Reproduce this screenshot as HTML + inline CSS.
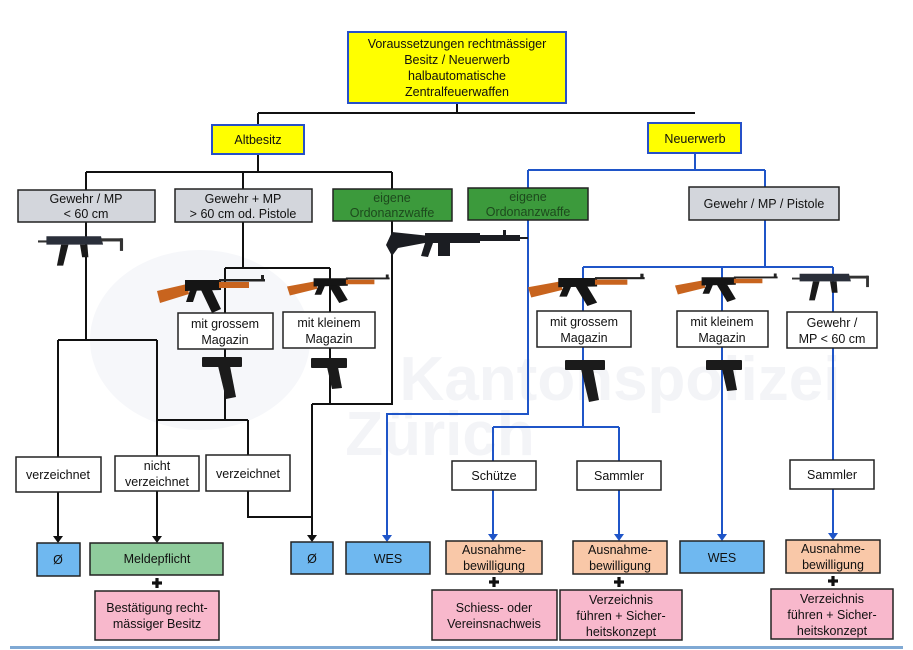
<!DOCTYPE html>
<html><head><meta charset="utf-8"><style>
html,body{margin:0;padding:0;background:#fff;}
svg{display:block;font-family:"Liberation Sans",sans-serif;}
text{font-size:12.5px;fill:#111;text-anchor:middle;}
</style></head><body>
<svg width="913" height="650" viewBox="0 0 913 650" xmlns="http://www.w3.org/2000/svg">
<defs>
<g id="ak">
<polygon points="0,18 30,11 32,21 3,30" fill="#c8641e"/>
<polygon points="28,7 64,7 64,17 28,18" fill="#151515"/>
<polygon points="62,9 92,9 92,15 62,15" fill="#c8641e"/>
<rect x="62" y="6" width="46" height="2.5" fill="#222"/>
<rect x="104" y="2" width="3" height="6" fill="#222"/>
<polygon points="44,17 55,17 64,36 55,40" fill="#151515"/>
<polygon points="33,17 40,17 36,29 29,29" fill="#151515"/>
</g>
<g id="mp5">
<rect x="0" y="8" width="10" height="2" fill="#333"/>
<polygon points="8,4 60,4 62,12 8,12" fill="#2a2f3a"/>
<rect x="60" y="6" width="20" height="3" fill="#333"/>
<rect x="78" y="6" width="3" height="12" fill="#333"/>
<polygon points="22,12 29,12 24,32 18,32" fill="#1a1a1a"/>
<polygon points="40,12 47,12 48,24 42,24" fill="#1a1a1a"/>
</g>
<g id="pistol">
<rect x="0" y="0" width="40" height="10" rx="1" fill="#1b1b1b"/>
<polygon points="16,9 28,9 34,40 24,42" fill="#1b1b1b"/>
</g>
<g id="pistols">
<rect x="0" y="0" width="36" height="10" rx="1" fill="#1b1b1b"/>
<polygon points="16,9 27,9 31,30 21,31" fill="#1b1b1b"/>
</g>
<g id="plus"><rect x="-5" y="-1.6" width="10" height="3.2"/><rect x="-1.6" y="-5" width="3.2" height="10"/></g>
</defs>

<!-- watermark -->
<ellipse cx="200" cy="340" rx="110" ry="90" fill="#f6f7fa"/>
<text x="620" y="400" style="font-size:62px;font-weight:bold;fill:#f3f4f7;">Kantonspolizei</text>
<text x="440" y="455" style="font-size:62px;font-weight:bold;fill:#f3f4f7;">Zürich</text>

<!-- black connectors -->
<g stroke="#111" stroke-width="2" fill="none">
<path d="M457,103 V113 M258,113 H695 M258,113 V125"/>
<path d="M258,153 V172 M86,172 H392 M86,172 V190 M243,172 V189 M392,172 V189"/>
<path d="M86,222 V340 M58,340 H157 M58,340 V457 M157,340 V456"/>
<path d="M58,492 V537"/>
<path d="M157,491 V537"/>
<path d="M243,222 V268 M225,268 H330 M225,268 V313 M330,268 V312"/>
<path d="M225,349 V420 M157,420 H248 M248,420 V455"/>
<path d="M330,348 V404 M312,404 H393 M392,221 V404"/>
<path d="M248,491 V517 H312 M312,404 V536"/>
</g>
<g fill="#111">
<polygon points="53,536 63,536 58,543"/>
<polygon points="152,536 162,536 157,543"/>
<polygon points="307,535 317,535 312,542"/>
</g>
<!-- blue connectors -->
<g stroke="#1f55c8" stroke-width="2" fill="none">
<path d="M695,153 V170 M528,170 H765 M528,170 V188 M765,170 V187"/>
<path d="M528,220 V414 H387 V536"/>
<path d="M765,220 V267 M583,267 H833 M583,267 V311 M722,267 V311 M833,267 V312"/>
<path d="M583,347 V427 M493,427 H619 M493,427 V461 M619,427 V461"/>
<path d="M493,490 V535 M619,490 V535"/>
<path d="M722,347 V535"/>
<path d="M833,348 V460 M833,489 V534"/>
</g>
<g fill="#1f55c8">
<polygon points="382,535 392,535 387,542"/>
<polygon points="488,534 498,534 493,541"/>
<polygon points="614,534 624,534 619,541"/>
<polygon points="717,534 727,534 722,541"/>
<polygon points="828,533 838,533 833,540"/>
</g>

<!-- guns -->
<use href="#mp5" transform="translate(38,232) scale(1.05)"/>
<use href="#mp5" transform="translate(792,270) scale(0.95)"/>
<use href="#ak" transform="translate(157,273) scale(1.0)"/>
<use href="#ak" transform="translate(287,273) scale(0.95,0.75)"/>
<use href="#ak" transform="translate(528,272) scale(1.08,0.85)"/>
<use href="#ak" transform="translate(675,272) scale(0.95,0.75)"/>
<use href="#pistol" transform="translate(202,357)"/>
<use href="#pistols" transform="translate(311,358)"/>
<use href="#pistol" transform="translate(565,360)"/>
<use href="#pistols" transform="translate(706,360)"/>
<g fill="#1b1d22">
<polygon points="386,245 392,232 430,236 430,242 398,248 392,256"/>
<rect x="425" y="233" width="55" height="10"/>
<rect x="478" y="235" width="42" height="6"/>
<rect x="518" y="237" width="10" height="2"/>
<rect x="503" y="230" width="3" height="6"/>
<polygon points="425,243 433,243 428,257 421,256"/>
<rect x="438" y="242" width="12" height="14"/>
</g>

<!-- boxes -->
<g stroke="#222" stroke-width="1.5">
<rect x="348" y="32" width="218" height="71" fill="#ffff00" stroke="#2650c8" stroke-width="2"/>
<rect x="212" y="125" width="92" height="29" fill="#ffff00" stroke="#2650c8" stroke-width="2"/>
<rect x="648" y="123" width="93" height="30" fill="#ffff00" stroke="#2650c8" stroke-width="2"/>
<rect x="18" y="190" width="137" height="32" fill="#d3d6dc"/>
<rect x="175" y="189" width="137" height="33" fill="#d3d6dc"/>
<rect x="333" y="189" width="119" height="32" fill="#3c9a3c"/>
<rect x="468" y="188" width="120" height="32" fill="#3c9a3c"/>
<rect x="689" y="187" width="150" height="33" fill="#d3d6dc"/>
<rect x="178" y="313" width="95" height="36" fill="#fff"/>
<rect x="283" y="312" width="92" height="36" fill="#fff"/>
<rect x="537" y="311" width="94" height="36" fill="#fff"/>
<rect x="677" y="311" width="91" height="36" fill="#fff"/>
<rect x="787" y="312" width="90" height="36" fill="#fff"/>
<rect x="16" y="457" width="85" height="35" fill="#fff"/>
<rect x="115" y="456" width="84" height="35" fill="#fff"/>
<rect x="206" y="455" width="84" height="36" fill="#fff"/>
<rect x="452" y="461" width="84" height="29" fill="#fff"/>
<rect x="577" y="461" width="84" height="29" fill="#fff"/>
<rect x="790" y="460" width="84" height="29" fill="#fff"/>
<rect x="37" y="543" width="43" height="33" fill="#6fb8f0"/>
<rect x="90" y="543" width="133" height="32" fill="#8fcc9c"/>
<rect x="291" y="542" width="42" height="32" fill="#6fb8f0"/>
<rect x="346" y="542" width="84" height="32" fill="#6fb8f0"/>
<rect x="446" y="541" width="96" height="33" fill="#f9c8a8"/>
<rect x="573" y="541" width="94" height="33" fill="#f9c8a8"/>
<rect x="680" y="541" width="84" height="32" fill="#6fb8f0"/>
<rect x="786" y="540" width="94" height="33" fill="#f9c8a8"/>
<rect x="95" y="591" width="124" height="49" fill="#f8b8cc"/>
<rect x="432" y="590" width="125" height="50" fill="#f8b8cc"/>
<rect x="560" y="590" width="122" height="50" fill="#f8b8cc"/>
<rect x="771" y="589" width="122" height="50" fill="#f8b8cc"/>
</g>

<!-- plus signs -->
<g fill="#111">
<use href="#plus" transform="translate(157,583)"/>
<use href="#plus" transform="translate(494,582)"/>
<use href="#plus" transform="translate(619,582)"/>
<use href="#plus" transform="translate(833,581)"/>
</g>

<!-- labels -->
<text x="457" y="48">Voraussetzungen rechtmässiger</text>
<text x="457" y="64">Besitz / Neuerwerb</text>
<text x="457" y="80">halbautomatische</text>
<text x="457" y="96">Zentralfeuerwaffen</text>
<text x="258" y="144">Altbesitz</text>
<text x="695" y="143">Neuerwerb</text>
<text x="86" y="203">Gewehr / MP</text>
<text x="86" y="218">&lt; 60 cm</text>
<text x="243" y="203">Gewehr + MP</text>
<text x="243" y="218">&gt; 60 cm od. Pistole</text>
<text x="392" y="202" style="fill:#1d4a1d">eigene</text>
<text x="392" y="217" style="fill:#1d4a1d">Ordonanzwaffe</text>
<text x="528" y="201" style="fill:#1d4a1d">eigene</text>
<text x="528" y="216" style="fill:#1d4a1d">Ordonanzwaffe</text>
<text x="764" y="208">Gewehr / MP / Pistole</text>
<text x="225" y="328">mit grossem</text>
<text x="225" y="344">Magazin</text>
<text x="329" y="327">mit kleinem</text>
<text x="329" y="343">Magazin</text>
<text x="584" y="326">mit grossem</text>
<text x="584" y="342">Magazin</text>
<text x="722" y="326">mit kleinem</text>
<text x="722" y="342">Magazin</text>
<text x="832" y="327">Gewehr /</text>
<text x="832" y="343">MP &lt; 60 cm</text>
<text x="58" y="479">verzeichnet</text>
<text x="157" y="470">nicht</text>
<text x="157" y="486">verzeichnet</text>
<text x="248" y="478">verzeichnet</text>
<text x="494" y="480">Schütze</text>
<text x="619" y="480">Sammler</text>
<text x="832" y="479">Sammler</text>
<text x="58" y="564">Ø</text>
<text x="157" y="563">Meldepflicht</text>
<text x="312" y="563">Ø</text>
<text x="388" y="563">WES</text>
<text x="494" y="554">Ausnahme-</text>
<text x="494" y="570">bewilligung</text>
<text x="620" y="554">Ausnahme-</text>
<text x="620" y="570">bewilligung</text>
<text x="722" y="562">WES</text>
<text x="833" y="553">Ausnahme-</text>
<text x="833" y="569">bewilligung</text>
<text x="157" y="612">Bestätigung recht-</text>
<text x="157" y="628">mässiger Besitz</text>
<text x="494" y="612">Schiess- oder</text>
<text x="494" y="628">Vereinsnachweis</text>
<text x="621" y="604">Verzeichnis</text>
<text x="621" y="620">führen + Sicher-</text>
<text x="621" y="636">heitskonzept</text>
<text x="832" y="603">Verzeichnis</text>
<text x="832" y="619">führen + Sicher-</text>
<text x="832" y="635">heitskonzept</text>

<rect x="10" y="646" width="893" height="3" fill="#2a6fb8" opacity="0.6"/>
</svg>
</body></html>
